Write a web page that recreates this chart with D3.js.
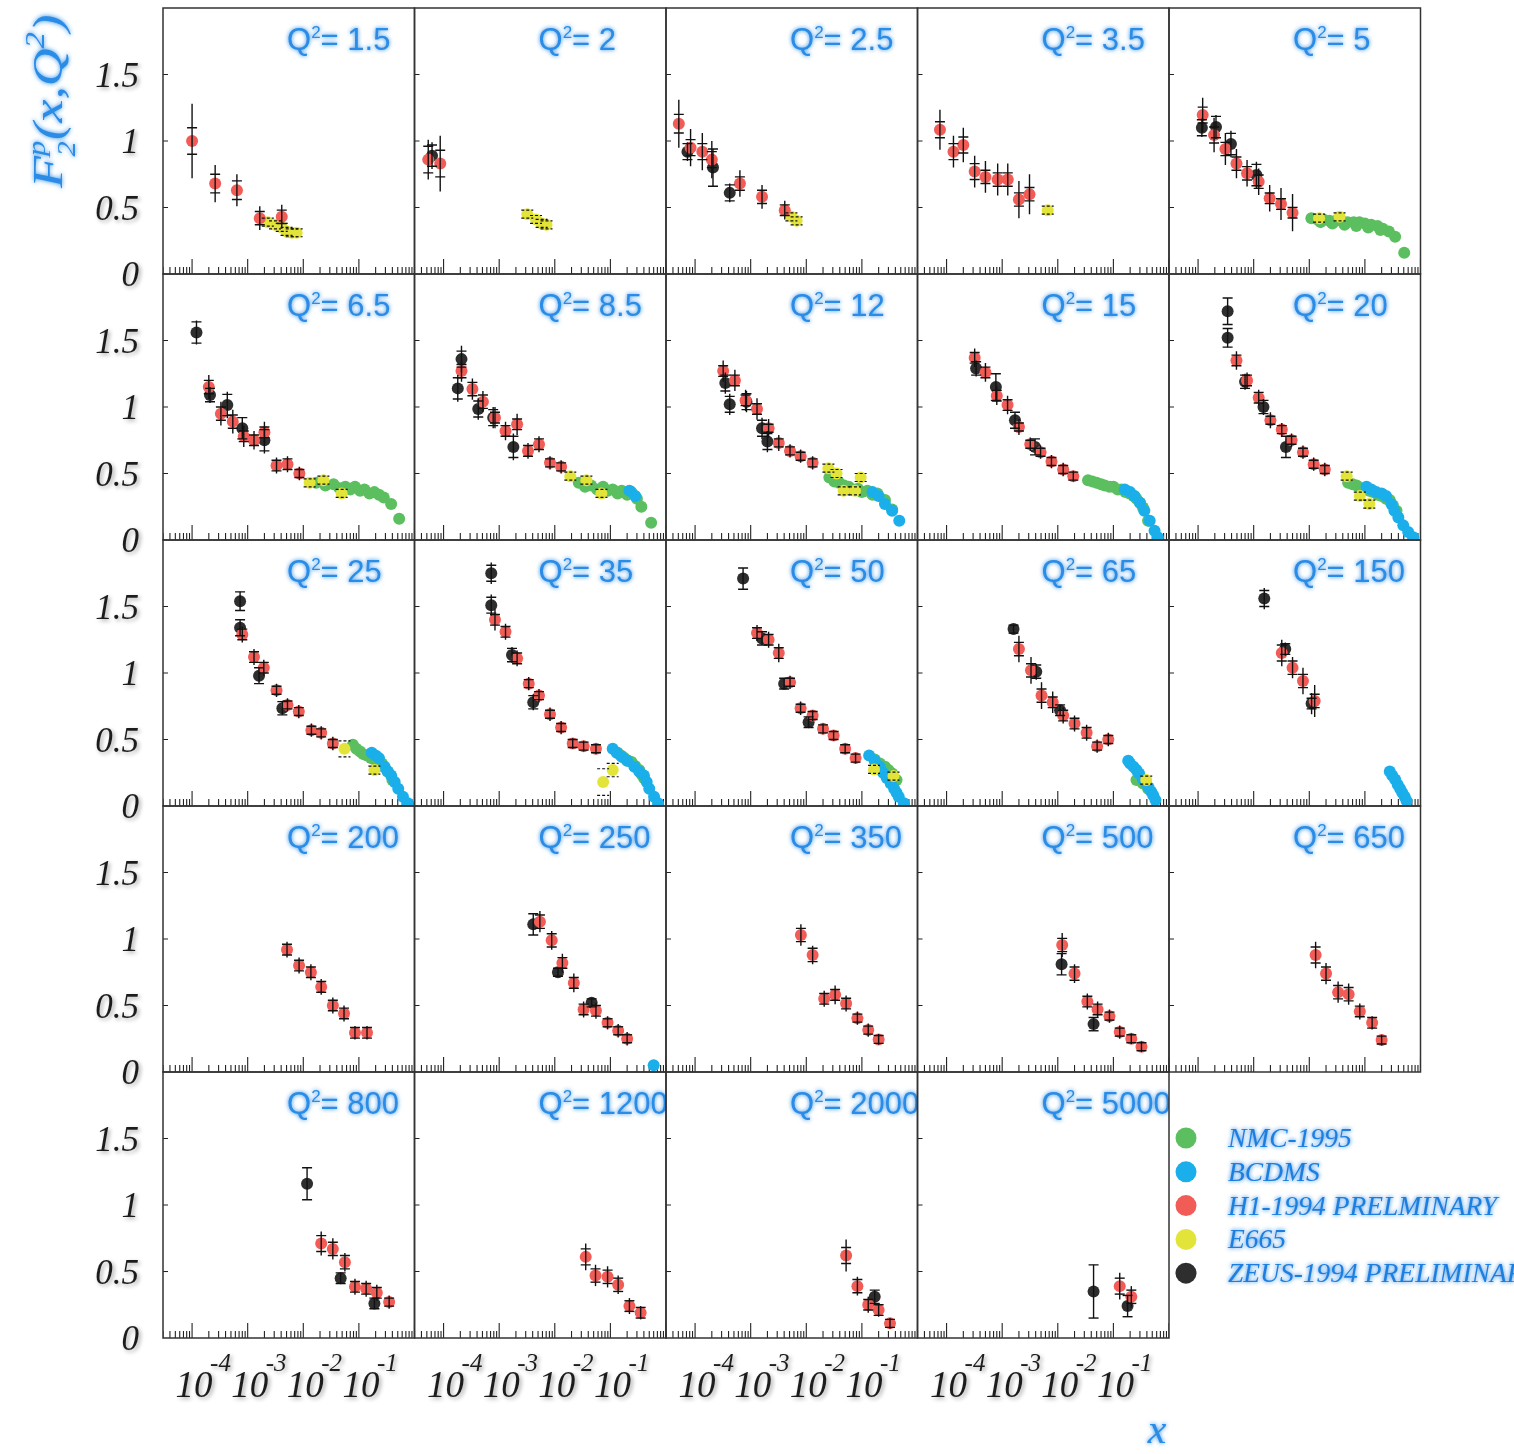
<!DOCTYPE html>
<html><head><meta charset="utf-8">
<script src="https://cdn.jsdelivr.net/npm/d3@7"></script>
<style>body{margin:0;background:#fff}</style>
</head><body><svg id="chart" width="1514" height="1454"></svg>
<script>
// ---------- DATA ----------
const q2Labels = ["1.5","2","2.5","3.5","5","6.5","8.5","12","15","20","25","35","50","65","150","200","250","350","500","650","800","1200","2000","5000"];
const yTickValues = [0, 0.5, 1, 1.5];
const xTickExponents = [-4, -3, -2, -1];
const legendLabels = ["NMC-1995","BCDMS","H1-1994 PRELMINARY","E665","ZEUS-1994 PRELIMINARY"];

// [panel, x, F2, statErr, totErr]
const h1Points = [
 [0,1.0e-4,1.00,0.10,0.28],[0,2.6e-4,0.68,0.07,0.14],[0,6.4e-4,0.63,0.07,0.12],[0,1.65e-3,0.42,0.05,0.09],[0,4.1e-3,0.43,0.05,0.09],
 [1,5.3e-5,0.86,0.10,0.15],[1,8.7e-5,0.83,0.10,0.21],
 [2,5.1e-5,1.13,0.07,0.18],[2,8.3e-5,0.95,0.06,0.14],[2,1.35e-4,0.92,0.06,0.14],[2,2.0e-4,0.86,0.06,0.14],[2,6.4e-4,0.68,0.05,0.10],[2,1.6e-3,0.58,0.05,0.09],[2,4.1e-3,0.48,0.04,0.07],
 [3,7.6e-5,1.085,0.06,0.15],[3,1.33e-4,0.92,0.06,0.12],[3,2.0e-4,0.97,0.06,0.13],[3,3.2e-4,0.77,0.06,0.12],[3,5.0e-4,0.73,0.05,0.12],[3,8.3e-4,0.71,0.05,0.12],[3,1.26e-3,0.71,0.05,0.12],[3,2.0e-3,0.56,0.05,0.14],[3,3.1e-3,0.60,0.05,0.15],
 [4,1.21e-4,1.195,0.06,0.13],[4,1.94e-4,1.045,0.06,0.13],[4,3.1e-4,0.94,0.05,0.12],[4,4.9e-4,0.83,0.05,0.11],[4,7.6e-4,0.757,0.05,0.10],[4,1.23e-3,0.694,0.05,0.10],[4,1.94e-3,0.569,0.04,0.10],[4,3.1e-3,0.526,0.04,0.12],[4,5.0e-3,0.461,0.04,0.14],
 [5,2.0e-4,1.15,0.05,0.09],[5,3.3e-4,0.95,0.05,0.09],[5,5.4e-4,0.89,0.05,0.09],[5,8.5e-4,0.78,0.04,0.08],[5,1.3e-3,0.75,0.04,0.07],[5,2.0e-3,0.81,0.04,0.08],[5,3.3e-3,0.56,0.04,0.06],[5,5.2e-3,0.57,0.04,0.06],[5,8.5e-3,0.50,0.03,0.05],
 [6,2.1e-4,1.27,0.05,0.08],[6,3.3e-4,1.135,0.05,0.08],[6,5.1e-4,1.04,0.05,0.08],[6,8.4e-4,0.92,0.04,0.08],[6,1.3e-3,0.82,0.04,0.07],[6,2.1e-3,0.87,0.04,0.08],[6,3.3e-3,0.67,0.04,0.06],[6,5.2e-3,0.72,0.04,0.06],[6,8.2e-3,0.58,0.03,0.05],[6,1.3e-2,0.55,0.03,0.05],
 [7,3.2e-4,1.27,0.04,0.08],[7,5.2e-4,1.20,0.04,0.08],[7,8.1e-4,1.05,0.04,0.08],[7,1.3e-3,0.985,0.04,0.08],[7,2.1e-3,0.84,0.03,0.07],[7,3.2e-3,0.73,0.03,0.06],[7,5.1e-3,0.67,0.03,0.05],[7,7.9e-3,0.63,0.03,0.05],[7,1.3e-2,0.58,0.03,0.05],
 [8,3.2e-4,1.37,0.04,0.07],[8,5.0e-4,1.26,0.04,0.07],[8,8.0e-4,1.085,0.04,0.07],[8,1.25e-3,1.015,0.04,0.07],[8,2.0e-3,0.85,0.03,0.06],[8,3.2e-3,0.72,0.03,0.05],[8,4.9e-3,0.66,0.03,0.05],[8,7.7e-3,0.59,0.03,0.05],[8,1.25e-2,0.53,0.03,0.05],[8,1.9e-2,0.48,0.03,0.04],
 [9,4.9e-4,1.35,0.04,0.07],[9,7.6e-4,1.20,0.04,0.06],[9,1.23e-3,1.07,0.04,0.06],[9,2.0e-3,0.90,0.03,0.06],[9,3.2e-3,0.83,0.03,0.05],[9,4.8e-3,0.75,0.03,0.05],[9,7.7e-3,0.66,0.03,0.05],[9,1.2e-2,0.57,0.03,0.05],[9,1.9e-2,0.53,0.03,0.05],
 [10,8.0e-4,1.29,0.04,0.06],[10,1.3e-3,1.12,0.04,0.06],[10,1.95e-3,1.04,0.04,0.06],[10,3.3e-3,0.87,0.03,0.05],[10,5.2e-3,0.76,0.03,0.05],[10,8.3e-3,0.71,0.03,0.05],[10,1.4e-2,0.57,0.03,0.05],[10,2.1e-2,0.55,0.03,0.05],[10,3.4e-2,0.47,0.03,0.05],
 [11,8.4e-4,1.40,0.04,0.08],[11,1.3e-3,1.31,0.04,0.06],[11,2.1e-3,1.11,0.04,0.06],[11,3.4e-3,0.92,0.03,0.05],[11,5.2e-3,0.83,0.03,0.05],[11,8.2e-3,0.69,0.03,0.05],[11,1.3e-2,0.59,0.03,0.05],[11,2.1e-2,0.47,0.03,0.04],[11,3.3e-2,0.45,0.03,0.04],[11,5.5e-2,0.43,0.03,0.04],
 [12,1.3e-3,1.30,0.04,0.06],[12,2.1e-3,1.25,0.04,0.06],[12,3.2e-3,1.15,0.04,0.07],[12,5.1e-3,0.93,0.03,0.05],[12,7.9e-3,0.735,0.03,0.05],[12,1.3e-2,0.68,0.03,0.04],[12,2.0e-2,0.58,0.03,0.04],[12,3.1e-2,0.53,0.03,0.04],[12,5.0e-2,0.43,0.03,0.04],[12,7.7e-2,0.36,0.03,0.04],
 [13,2.0e-3,1.18,0.05,0.10],[13,3.3e-3,1.02,0.05,0.10],[13,5.1e-3,0.83,0.05,0.10],[13,8.1e-3,0.78,0.04,0.08],[13,1.25e-2,0.68,0.04,0.06],[13,2.0e-2,0.62,0.04,0.06],[13,3.3e-2,0.55,0.04,0.06],[13,5.1e-2,0.45,0.03,0.05],[13,8.1e-2,0.50,0.03,0.05],
 [14,3.2e-3,1.15,0.06,0.10],[14,5.0e-3,1.04,0.05,0.08],[14,7.7e-3,0.94,0.05,0.10],[14,1.25e-2,0.79,0.05,0.12],
 [15,5.1e-3,0.92,0.04,0.06],[15,8.4e-3,0.80,0.04,0.06],[15,1.37e-2,0.75,0.04,0.06],[15,2.1e-2,0.64,0.04,0.06],[15,3.4e-2,0.50,0.04,0.06],[15,5.4e-2,0.44,0.04,0.06],[15,8.5e-2,0.295,0.04,0.05],[15,0.14,0.295,0.04,0.05],
 [16,5.4e-3,1.13,0.05,0.08],[16,8.8e-3,0.99,0.05,0.07],[16,1.37e-2,0.82,0.04,0.07],[16,2.2e-2,0.67,0.04,0.07],[16,3.3e-2,0.47,0.04,0.06],[16,5.5e-2,0.46,0.04,0.06],[16,8.9e-2,0.37,0.03,0.05],[16,0.138,0.31,0.03,0.05],[16,0.20,0.25,0.03,0.05],
 [17,8.0e-3,1.03,0.05,0.08],[17,1.3e-2,0.88,0.05,0.07],[17,2.1e-2,0.55,0.04,0.06],[17,3.3e-2,0.58,0.04,0.07],[17,5.2e-2,0.515,0.04,0.06],[17,8.3e-2,0.405,0.03,0.05],[17,0.13,0.315,0.03,0.05],[17,0.20,0.245,0.03,0.04],
 [18,1.2e-2,0.955,0.05,0.09],[18,2.0e-2,0.74,0.05,0.07],[18,3.4e-2,0.53,0.04,0.06],[18,5.2e-2,0.47,0.04,0.06],[18,8.5e-2,0.42,0.03,0.05],[18,0.13,0.30,0.03,0.05],[18,0.21,0.25,0.03,0.04],[18,0.32,0.19,0.03,0.04],
 [19,1.3e-2,0.88,0.06,0.10],[19,2.0e-2,0.74,0.05,0.08],[19,3.3e-2,0.60,0.05,0.08],[19,5.1e-2,0.585,0.05,0.08],[19,8.1e-2,0.455,0.04,0.06],[19,0.135,0.37,0.04,0.05],[19,0.20,0.24,0.03,0.04],
 [20,2.1e-2,0.71,0.06,0.09],[20,3.4e-2,0.67,0.05,0.08],[20,5.6e-2,0.57,0.05,0.07],[20,8.5e-2,0.385,0.04,0.06],[20,0.135,0.37,0.04,0.06],[20,0.21,0.34,0.04,0.06],[20,0.35,0.27,0.03,0.05],
 [21,3.6e-2,0.61,0.06,0.10],[21,5.4e-2,0.47,0.05,0.08],[21,8.9e-2,0.46,0.05,0.08],[21,0.138,0.40,0.05,0.07],[21,0.22,0.24,0.04,0.06],[21,0.35,0.19,0.04,0.05],
 [22,5.2e-2,0.62,0.06,0.12],[22,8.3e-2,0.39,0.05,0.07],[22,0.13,0.25,0.04,0.06],[22,0.20,0.21,0.04,0.05],[22,0.32,0.11,0.03,0.04],
 [23,0.13,0.39,0.06,0.10],[23,0.21,0.31,0.05,0.08]
];
// [panel, x, F2, statErr, totErr]
const zeusPoints = [
 [1,6.2e-5,0.89,0.08,0.10],
 [2,7.3e-5,0.92,0.06,0.07],[2,2.1e-4,0.80,0.14,0.14],[2,4.2e-4,0.61,0.06,0.07],
 [4,1.17e-4,1.10,0.06,0.07],[4,2.1e-4,1.105,0.08,0.09],[4,3.9e-4,0.977,0.08,0.10],[4,1.12e-3,0.744,0.08,0.10],
 [5,1.2e-4,1.56,0.08,0.09],[5,2.1e-4,1.09,0.05,0.06],[5,4.3e-4,1.015,0.08,0.10],[5,8.0e-4,0.84,0.08,0.08],[5,2.0e-3,0.75,0.08,0.10],
 [6,2.1e-4,1.36,0.06,0.10],[6,1.8e-4,1.14,0.08,0.10],[6,4.2e-4,0.985,0.06,0.08],[6,7.8e-4,0.92,0.06,0.08],[6,1.8e-3,0.70,0.08,0.10],
 [7,3.5e-4,1.18,0.06,0.08],[7,4.2e-4,1.02,0.06,0.08],[7,8.4e-4,1.04,0.06,0.08],[7,1.6e-3,0.84,0.06,0.08],[7,2.0e-3,0.74,0.06,0.08],
 [8,3.4e-4,1.29,0.05,0.06],[8,7.7e-4,1.15,0.10,0.10],[8,1.7e-3,0.90,0.06,0.06],[8,3.9e-3,0.70,0.06,0.06],
 [9,3.4e-4,1.72,0.10,0.10],[9,3.4e-4,1.52,0.07,0.07],[9,7.0e-4,1.19,0.05,0.06],[9,1.5e-3,1.00,0.05,0.06],[9,3.8e-3,0.70,0.08,0.08],
 [10,7.3e-4,1.54,0.07,0.07],[10,7.3e-4,1.34,0.06,0.06],[10,1.6e-3,0.98,0.06,0.06],[10,4.2e-3,0.735,0.05,0.05],
 [11,7.2e-4,1.75,0.06,0.08],[11,7.2e-4,1.51,0.06,0.08],[11,1.7e-3,1.135,0.05,0.06],[11,4.1e-3,0.78,0.05,0.06],
 [12,7.3e-4,1.71,0.08,0.08],[12,1.6e-3,1.26,0.05,0.05],[12,4.0e-3,0.92,0.04,0.04],[12,1.1e-2,0.63,0.04,0.04],
 [13,1.6e-3,1.33,0.03,0.03],[13,4.1e-3,1.01,0.05,0.06],[13,1.1e-2,0.72,0.04,0.04],
 [14,1.55e-3,1.56,0.06,0.08],[14,3.7e-3,1.18,0.04,0.05],[14,1.1e-2,0.77,0.04,0.08],
 [16,4.1e-3,1.11,0.08,0.08],[16,1.14e-2,0.75,0.03,0.03],[16,4.6e-2,0.52,0.03,0.03],
 [18,1.17e-2,0.81,0.08,0.08],[18,4.4e-2,0.36,0.05,0.05],
 [20,1.17e-2,1.16,0.12,0.12],[20,4.7e-2,0.45,0.04,0.04],[20,0.19,0.26,0.04,0.04],
 [22,0.17,0.31,0.05,0.05],
 [23,4.4e-2,0.35,0.20,0.20],[23,0.18,0.24,0.08,0.08]
];
// [panel, x, F2, err]
const e665Points = [
 [0,2.3e-3,0.39,0.03],[0,3.1e-3,0.37,0.03],[0,4.1e-3,0.35,0.03],[0,5.0e-3,0.32,0.03],[0,6.2e-3,0.31,0.03],[0,7.6e-3,0.31,0.03],
 [1,3.2e-3,0.45,0.03],[1,4.6e-3,0.41,0.03],[1,5.8e-3,0.38,0.03],[1,7.1e-3,0.37,0.03],
 [2,5.4e-3,0.43,0.03],[2,6.7e-3,0.40,0.03],
 [3,6.6e-3,0.48,0.03],
 [4,1.5e-2,0.42,0.03],[4,3.5e-2,0.43,0.03],
 [5,1.3e-2,0.43,0.03],[5,2.3e-2,0.45,0.03],[5,4.9e-2,0.35,0.03],
 [6,1.9e-2,0.48,0.03],[6,3.7e-2,0.45,0.03],[6,6.9e-2,0.35,0.03],
 [7,2.5e-2,0.54,0.03],[7,3.5e-2,0.50,0.03],[7,4.7e-2,0.37,0.03],[7,7.5e-2,0.37,0.03],[7,9.5e-2,0.47,0.03],
 [9,4.7e-2,0.48,0.03],[9,8.1e-2,0.33,0.03],[9,0.12,0.27,0.03],
 [10,5.5e-2,0.43,0.06],[10,0.19,0.27,0.03],
 [11,7.4e-2,0.18,0.10],[11,0.11,0.27,0.05],
 [12,0.165,0.275,0.03],[12,0.37,0.225,0.03],
 [13,0.39,0.195,0.03]
];
// [panel, x, F2]
const nmcPoints = [
 [4,1.09e-2,0.42],[4,1.4e-2,0.41],[4,1.6e-2,0.39],[4,1.8e-2,0.41],[4,2.3e-2,0.40],[4,2.6e-2,0.38],[4,3.0e-2,0.40],[4,3.8e-2,0.40],[4,4.3e-2,0.37],[4,4.9e-2,0.39],[4,6.3e-2,0.39],[4,7.0e-2,0.36],[4,8.0e-2,0.39],[4,0.10,0.38],[4,0.115,0.35],[4,0.13,0.37],[4,0.17,0.36],[4,0.19,0.33],[4,0.21,0.34],[4,0.27,0.32],[4,0.35,0.28],[4,0.51,0.16],
 [5,1.7e-2,0.43],[5,2.5e-2,0.41],[5,3.5e-2,0.42],[5,4.5e-2,0.39],[5,5.7e-2,0.40],[5,7.0e-2,0.38],[5,8.5e-2,0.40],[5,0.105,0.37],[5,0.126,0.38],[5,0.155,0.35],[5,0.19,0.36],[5,0.23,0.34],[5,0.28,0.32],[5,0.38,0.27],[5,0.53,0.16],
 [6,2.7e-2,0.43],[6,3.5e-2,0.40],[6,4.5e-2,0.41],[6,5.8e-2,0.38],[6,7.4e-2,0.40],[6,9.0e-2,0.37],[6,0.11,0.38],[6,0.135,0.35],[6,0.16,0.37],[6,0.20,0.34],[6,0.24,0.36],[6,0.30,0.31],[6,0.36,0.25],[6,0.54,0.13],
 [7,2.6e-2,0.47],[7,3.2e-2,0.44],[7,3.9e-2,0.43],[7,4.8e-2,0.41],[7,5.8e-2,0.40],[7,7.0e-2,0.38],[7,8.5e-2,0.385],[7,0.10,0.36],[7,0.126,0.37],[7,0.155,0.34],[7,0.19,0.35],[7,0.26,0.30],[7,0.35,0.23],
 [8,3.5e-2,0.45],[8,4.2e-2,0.44],[8,5.0e-2,0.43],[8,6.0e-2,0.42],[8,7.0e-2,0.41],[8,8.5e-2,0.40],[8,0.10,0.40],[8,0.12,0.38],[8,0.14,0.38],[8,0.165,0.36],[8,0.195,0.35],[8,0.23,0.33],[8,0.26,0.31],[8,0.30,0.28],[8,0.34,0.245],[8,0.42,0.145],
 [9,5.0e-2,0.43],[9,6.0e-2,0.42],[9,7.1e-2,0.41],[9,8.5e-2,0.39],[9,0.10,0.38],[9,0.12,0.37],[9,0.14,0.36],[9,0.17,0.34],[9,0.20,0.33],[9,0.24,0.31],[9,0.28,0.30],[9,0.32,0.26],[9,0.37,0.22],
 [10,7.8e-2,0.46],[10,9.0e-2,0.43],[10,0.105,0.41],[10,0.12,0.39],[10,0.14,0.38],[10,0.165,0.36],[10,0.19,0.35],[10,0.22,0.33],[10,0.26,0.32],[10,0.29,0.29],[10,0.33,0.26],[10,0.40,0.195],
 [11,0.135,0.40],[11,0.155,0.38],[11,0.18,0.36],[11,0.21,0.34],[11,0.24,0.33],[11,0.28,0.30],[11,0.33,0.27],[11,0.36,0.24],[11,0.40,0.21],
 [12,0.17,0.35],[12,0.21,0.32],[12,0.26,0.295],[12,0.30,0.27],[12,0.35,0.245],[12,0.42,0.195],
 [13,0.26,0.195],[13,0.34,0.17],[13,0.42,0.13]
];
// [panel, x, F2]
const bcdmsPoints = [
 [6,0.22,0.37],[6,0.28,0.33],
 [7,0.155,0.36],[7,0.20,0.33],[7,0.26,0.27],[7,0.35,0.22],[7,0.47,0.145],
 [8,0.16,0.38],[8,0.20,0.36],[8,0.24,0.33],[8,0.30,0.28],[8,0.36,0.22],[8,0.45,0.145],[8,0.55,0.07],[8,0.63,0.02],
 [9,0.107,0.40],[9,0.13,0.38],[9,0.16,0.36],[9,0.20,0.35],[9,0.24,0.33],[9,0.30,0.27],[9,0.34,0.22],[9,0.40,0.17],[9,0.49,0.11],[9,0.60,0.06],[9,0.74,0.02],
 [10,0.17,0.40],[10,0.20,0.38],[10,0.23,0.36],[10,0.29,0.295],[10,0.33,0.26],[10,0.38,0.23],[10,0.44,0.18],[10,0.51,0.13],[10,0.62,0.07],[10,0.76,0.02],
 [11,0.11,0.43],[11,0.13,0.40],[11,0.16,0.37],[11,0.20,0.34],[11,0.27,0.295],[11,0.33,0.26],[11,0.40,0.23],[11,0.45,0.18],[11,0.50,0.13],[11,0.61,0.07],[11,0.72,0.02],
 [12,0.135,0.38],[12,0.17,0.34],[12,0.21,0.295],[12,0.24,0.25],[12,0.28,0.21],[12,0.33,0.17],[12,0.38,0.13],[12,0.42,0.10],[12,0.46,0.07],[12,0.57,0.02],
 [13,0.185,0.34],[13,0.20,0.32],[13,0.23,0.295],[13,0.26,0.27],[13,0.29,0.245],[13,0.34,0.20],[13,0.39,0.17],[13,0.43,0.14],[13,0.48,0.108],[13,0.52,0.08],[13,0.57,0.045],
 [14,0.28,0.26],[14,0.31,0.23],[14,0.35,0.20],[14,0.39,0.16],[14,0.43,0.13],[14,0.47,0.10],[14,0.52,0.07],[14,0.56,0.04],
 [16,0.60,0.05]
];

// ---------- STYLE / LAYOUT ----------
const colors = {nmc:"#5cbf5f", bcdms:"#1aaeea", h1:"#f25c57", e665:"#e3e43a", zeus:"#2e2e2e"};
const legendColors = [colors.nmc, colors.bcdms, colors.h1, colors.e665, colors.zeus];
const blue = "#2a8ce6";
const W = 251.5, H = 266, X0 = 163, Y0 = 8, R = 6;

const svg = d3.select("#chart");
svg.append("rect").attr("width",1514).attr("height",1454).attr("fill","#fff");
const defs = svg.append("defs");
const glow = defs.append("filter").attr("id","glow").attr("x","-20%").attr("y","-60%").attr("width","140%").attr("height","220%");
glow.append("feGaussianBlur").attr("in","SourceGraphic").attr("stdDeviation",2.2).attr("result","b");
const fm = glow.append("feMerge");
fm.append("feMergeNode").attr("in","b");
fm.append("feMergeNode").attr("in","SourceGraphic");
const shadow = defs.append("filter").attr("id","shadow").attr("x","-30%").attr("y","-30%").attr("width","160%").attr("height","160%");
shadow.append("feGaussianBlur").attr("in","SourceAlpha").attr("stdDeviation",2).attr("result","b");
shadow.append("feOffset").attr("in","b").attr("dx",2).attr("dy",2).attr("result","o");
shadow.append("feComponentTransfer").attr("in","o").attr("result","o2").append("feFuncA").attr("type","linear").attr("slope",0.35);
const fm2 = shadow.append("feMerge");
fm2.append("feMergeNode").attr("in","o2");
fm2.append("feMergeNode").attr("in","SourceGraphic");

const x = d3.scaleLog().domain([3e-5, 1]).range([0, W]);
const y = d3.scaleLinear().domain([0, 2]).range([H, 0]);

const byPanel = (arr, i) => arr.filter(d => d[0] === i);

q2Labels.forEach((lab, i) => {
  const r = Math.floor(i / 5), c = i % 5;
  const g = svg.append("g").attr("transform", `translate(${X0 + c*W},${Y0 + r*H})`);
  defs.append("clipPath").attr("id","clip"+i).append("rect").attr("width",W).attr("height",H);
  const cg = g.append("g").attr("clip-path",`url(#clip${i})`);

  // ticks (x, log)
  const minor = [];
  for (let d = -5; d <= 0; d++) for (let k = 1; k <= 9; k++) {
    const v = k * Math.pow(10, d);
    if (v >= 3e-5 && v <= 1.0001) minor.push({v, major: k === 1});
  }
  cg.selectAll("line.xt").data(minor).join("line")
    .attr("x1", d => x(d.v)).attr("x2", d => x(d.v))
    .attr("y1", H).attr("y2", d => H - (d.major ? 15 : 7))
    .attr("stroke","#222").attr("stroke-width",1.1);
  cg.selectAll("line.yt").data([0.5,1,1.5]).join("line")
    .attr("x1",0).attr("x2",5).attr("y1", d => y(d)).attr("y2", d => y(d))
    .attr("stroke","#222").attr("stroke-width",1.1);

  // label
  const t = cg.append("text").attr("x",124).attr("y",42)
    .attr("font-family","'Liberation Sans', Arial, sans-serif").attr("font-size",31)
    .attr("fill",blue).attr("filter","url(#glow)");
  t.append("tspan").text("Q");
  t.append("tspan").attr("font-size",17).attr("dy",-12).text("2");
  t.append("tspan").attr("dy",12).text("= " + lab);

  // markers
  const dot = (arr, col) => cg.append("g").selectAll("circle").data(byPanel(arr, i)).join("circle")
      .attr("cx", d => x(d[1])).attr("cy", d => y(d[2])).attr("r", R).attr("fill", col);
  dot(nmcPoints, colors.nmc);
  dot(bcdmsPoints, colors.bcdms);
  dot(e665Points, colors.e665);
  dot(zeusPoints, colors.zeus);
  dot(h1Points, colors.h1);

  // E665 dashed caps
  const eg = cg.append("g").attr("stroke","#111").attr("stroke-width",1.2).attr("stroke-dasharray","3,2");
  byPanel(e665Points, i).forEach(d => {
    [d[2]-d[3], d[2]+d[3]].forEach(v => eg.append("line")
      .attr("x1", x(d[1]) - 6).attr("x2", x(d[1]) + 6).attr("y1", y(v)).attr("y2", y(v)));
  });
  // error bars
  const errg = cg.append("g").attr("stroke","#111").attr("stroke-width",1.4);
  byPanel(h1Points, i).concat(byPanel(zeusPoints, i)).forEach(d => {
    const cx = x(d[1]);
    errg.append("line").attr("x1",cx).attr("x2",cx).attr("y1",y(d[2]-d[4])).attr("y2",y(d[2]+d[4]));
    [d[2]-d[3], d[2]+d[3]].forEach(v => errg.append("line")
      .attr("x1",cx-5).attr("x2",cx+5).attr("y1",y(v)).attr("y2",y(v)));
  });

  g.append("rect").attr("width",W).attr("height",H).attr("fill","none")
    .attr("stroke","#333").attr("stroke-width",1.5);
});

// y tick labels
for (let r = 0; r < 5; r++) {
  svg.append("g").selectAll("text").data(yTickValues).join("text")
    .attr("x",139).attr("y", d => Y0 + r*H + y(d) + 12)
    .attr("text-anchor","end")
    .attr("font-family","'Liberation Serif', 'Times New Roman', serif").attr("font-style","italic")
    .attr("font-size",35).attr("fill","#1e1e1e").attr("filter","url(#shadow)")
    .text(d => String(d));
}
// x tick labels
for (let c = 0; c < 4; c++) {
  xTickExponents.forEach(e => {
    const tx = X0 + c*W + x(Math.pow(10, e));
    svg.append("text").attr("x", tx + 2).attr("y", 1397).attr("text-anchor","middle")
      .attr("font-family","'Liberation Serif', serif").attr("font-style","italic")
      .attr("font-size",37).attr("fill","#1e1e1e").attr("filter","url(#shadow)").text("10");
    svg.append("text").attr("x", tx + 18).attr("y", 1371)
      .attr("font-family","'Liberation Serif', serif").attr("font-style","italic")
      .attr("font-size",25).attr("fill","#1e1e1e").attr("filter","url(#shadow)").text(String(e));
  });
}

// axis titles
const yt = svg.append("text").attr("transform","translate(62,188) rotate(-90) scale(1.22,1)")
  .attr("font-family","'Liberation Serif', serif").attr("font-style","italic")
  .attr("font-size",43).attr("fill",blue).attr("filter","url(#glow)");
yt.append("tspan").text("F");
yt.append("tspan").attr("font-size",25).attr("dy",-17).text("p");
yt.append("tspan").attr("font-size",25).attr("dx",-13).attr("dy",30).text("2");
yt.append("tspan").attr("dy",-13).attr("dx",1).text("(x,Q");
yt.append("tspan").attr("font-size",27).attr("dy",-18).text("2");
yt.append("tspan").attr("dy",18).text(")");

svg.append("text").attr("x",1157).attr("y",1443).attr("text-anchor","middle")
  .attr("font-family","'Liberation Serif', serif").attr("font-style","italic")
  .attr("font-size",42).attr("fill",blue).attr("filter","url(#glow)").text("x");

// legend
const lg = svg.append("g");
legendLabels.forEach((lab, k) => {
  const cy = 1138 + k * 33.8;
  lg.append("circle").attr("cx",1186).attr("cy",cy).attr("r",10.5).attr("fill",legendColors[k]);
  lg.append("text").attr("x",1228).attr("y",cy + 9)
    .attr("font-family","'Liberation Serif', serif").attr("font-style","italic")
    .attr("font-size",27.5).attr("fill","#1f7fe0").attr("filter","url(#glow)").text(lab);
});
</script>
</body></html>
